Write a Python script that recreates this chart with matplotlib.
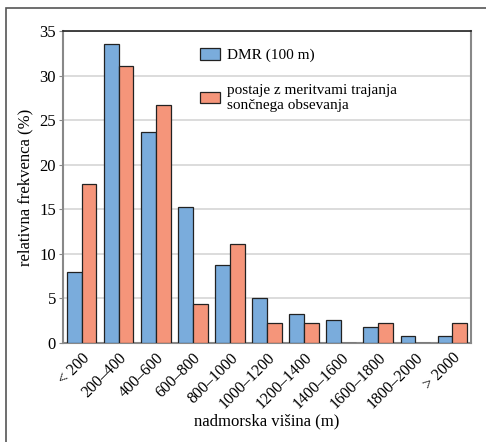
import numpy as np
import matplotlib.pyplot as plt
from matplotlib.patches import Rectangle

plt.rcParams['font.family'] = ['Liberation Serif', 'DejaVu Serif']

kategorije = ['< 200', '200–400', '400–600', '600–800', '800–1000', '1000–1200',
              '1200–1400', '1400–1600', '1600–1800', '1800–2000', '> 2000']
dmr = [8.0, 33.5, 23.7, 15.3, 8.7, 5.1, 3.2, 2.6, 1.8, 0.8, 0.8]
postaje = [17.8, 31.1, 26.7, 4.4, 11.1, 2.2, 2.2, 0.0, 2.2, 0.0, 2.2]

modra = '#7aacdc'
oranzna = '#f5957a'

fig = plt.figure(figsize=(4.86, 4.42), dpi=100)
# okvir okoli slike
fig.patches.append(Rectangle((6 / 486, -0.5), 2, 1.5 - 8 / 442, transform=fig.transFigure,
                             fill=False, edgecolor='#555555', linewidth=1.2))

ax = fig.add_axes([63 / 486, 1 - 343 / 442, 408 / 486, 312 / 442])

x = np.arange(len(kategorije))
w = 0.4
ax.bar(x - w / 2, dmr, width=w, color=modra, edgecolor='#222222', linewidth=0.9,
       label='DMR (100 m)', zorder=3)
ax.bar(x + w / 2, postaje, width=w, color=oranzna, edgecolor='#222222', linewidth=0.9,
       label='postaje z meritvami trajanja\nsončnega obsevanja', zorder=3)

ax.set_xlim(-0.5, len(kategorije) - 0.5)
ax.set_ylim(0, 35)
ax.set_yticks(range(0, 36, 5))
ax.yaxis.grid(True, color='#d9d9d9', linewidth=1.3, zorder=0)
ax.set_axisbelow(True)

ax.set_xticks(x)
ax.set_xticklabels(kategorije, rotation=45, ha='right', rotation_mode='anchor', fontsize=11.5)
ax.tick_params(axis='x', length=0, pad=5)
ax.tick_params(axis='y', length=3, width=0.8, color='#888888', labelsize=12, pad=2)

ax.spines['top'].set_color('#222222')
ax.spines['top'].set_linewidth(1.2)
for s in ['left', 'right', 'bottom']:
    ax.spines[s].set_color('#888888')
    ax.spines[s].set_linewidth(1.5)

ax.set_ylabel('relativna frekvenca (%)', fontsize=12, labelpad=4)
ax.set_xlabel('nadmorska višina (m)', fontsize=12, labelpad=1)

ax.legend(loc='upper left', bbox_to_anchor=(0.32, 0.965), frameon=False, fontsize=11,
          handlelength=1.3, handleheight=0.8, labelspacing=1.4, handletextpad=0.5,
          borderaxespad=0)

fig.savefig('out.png', dpi=100)
